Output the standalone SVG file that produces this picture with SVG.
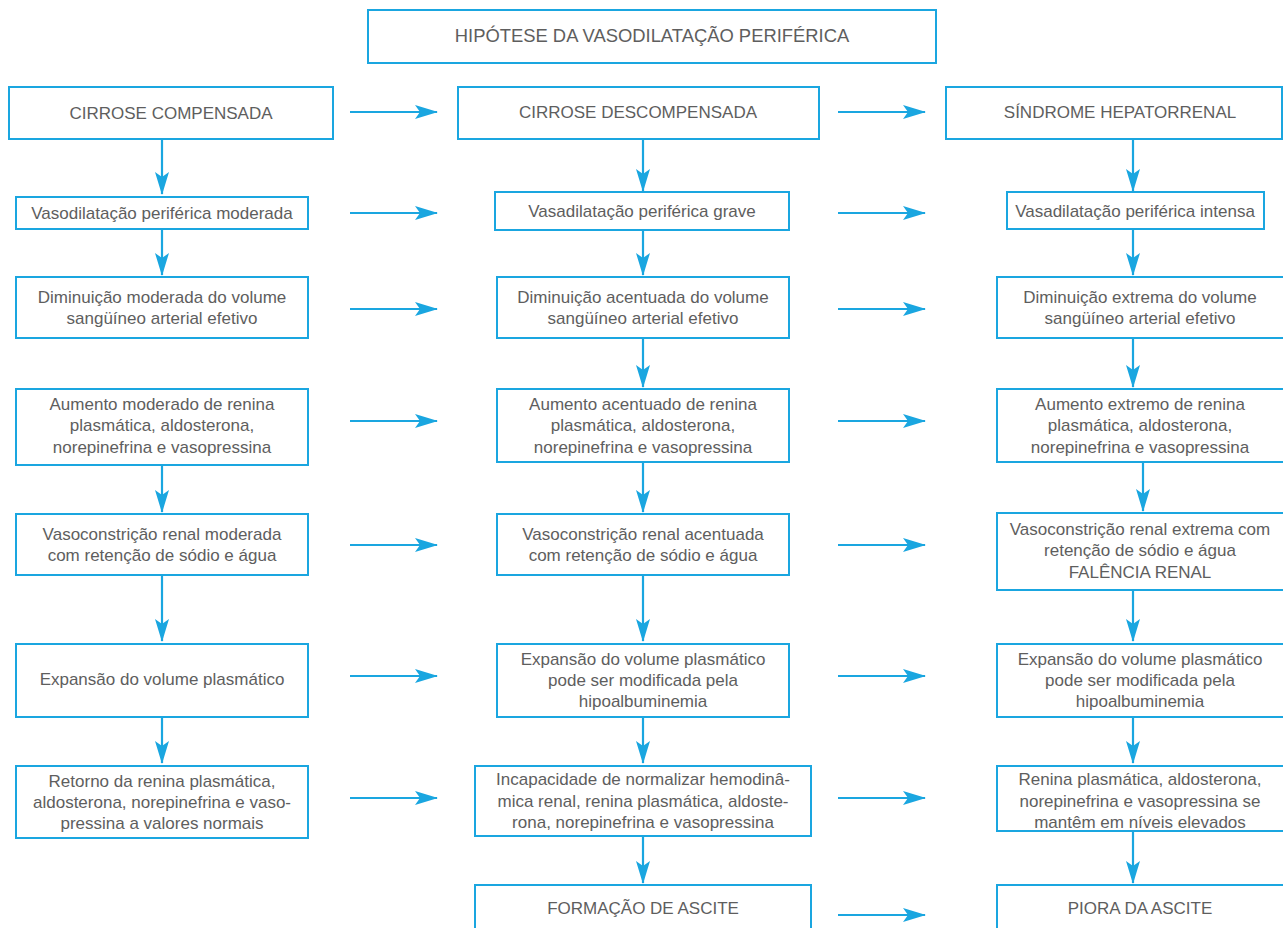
<svg xmlns="http://www.w3.org/2000/svg" width="1283" height="928" viewBox="0 0 1283 928">
<style>
.b{fill:#fff;stroke:#1aa6e0;stroke-width:2}
.t{font-family:"Liberation Sans",Arial,sans-serif;font-size:17px;fill:#5e5e5e;text-anchor:middle}
.ti{font-size:18.4px}
.c{stroke:#1aa6e0;stroke-width:2.2;fill:none;marker-end:url(#ah)}
</style>
<defs>
<marker id="ah" markerUnits="userSpaceOnUse" markerWidth="24" markerHeight="14" refX="22" refY="7" orient="auto">
<path d="M0,0 L23,7 L0,14 L5,7 Z" fill="#1aa6e0"/>
</marker>
</defs>
<rect width="1283" height="928" fill="#fff"/>
<g id="connectors">
<path class="c" d="M350,112 H437"/><path class="c" d="M838,112 H925"/>
<path class="c" d="M350,213 H437"/><path class="c" d="M838,213 H925"/>
<path class="c" d="M350,309 H437"/><path class="c" d="M838,309 H925"/>
<path class="c" d="M350,421 H437"/><path class="c" d="M838,421 H925"/>
<path class="c" d="M350,545 H437"/><path class="c" d="M838,545 H925"/>
<path class="c" d="M350,676 H437"/><path class="c" d="M838,676 H925"/>
<path class="c" d="M350,798 H437"/><path class="c" d="M838,798 H925"/>
<path class="c" d="M838,915 H925"/>
<path class="c" d="M162,139 V194"/><path class="c" d="M162,229 V275"/>
<path class="c" d="M162,465 V512"/><path class="c" d="M162,575 V641"/><path class="c" d="M162,717 V763"/>
<path class="c" d="M643,139 V191"/><path class="c" d="M643,230 V275"/><path class="c" d="M643,338 V387"/>
<path class="c" d="M643,462 V512"/><path class="c" d="M643,575 V641"/><path class="c" d="M643,717 V763"/><path class="c" d="M643,836 V883"/>
<path class="c" d="M1133,139 V191"/><path class="c" d="M1133,229 V275"/><path class="c" d="M1133,338 V387"/>
<path class="c" d="M1143,462 V511"/><path class="c" d="M1133,590 V641"/><path class="c" d="M1133,717 V763"/><path class="c" d="M1133,831 V883"/>
</g>
<g id="title"><rect class="b" x="368" y="10" width="568" height="53"/><text class="t ti" x="652" y="42">HIPÓTESE DA VASODILATAÇÃO PERIFÉRICA</text></g>

<g id="c1r1"><rect class="b" x="9" y="87" width="324" height="52"/><text class="t" x="171" y="119">CIRROSE COMPENSADA</text></g>
<g id="c1r2"><rect class="b" x="16" y="197" width="292" height="32"/><text class="t" x="162" y="219">Vasodilatação periférica moderada</text></g>
<g id="c1r3"><rect class="b" x="16" y="277" width="292" height="61"/><text class="t" x="162" y="303">Diminuição moderada do volume</text><text class="t" x="162" y="324">sangüíneo arterial efetivo</text></g>
<g id="c1r4"><rect class="b" x="16" y="389" width="292" height="76"/><text class="t" x="162" y="410">Aumento moderado de renina</text><text class="t" x="162" y="431">plasmática, aldosterona,</text><text class="t" x="162" y="453">norepinefrina e vasopressina</text></g>
<g id="c1r5"><rect class="b" x="16" y="514" width="292" height="61"/><text class="t" x="162" y="540">Vasoconstrição renal moderada</text><text class="t" x="162" y="561">com retenção de sódio e água</text></g>
<g id="c1r6"><rect class="b" x="16" y="644" width="292" height="73"/><text class="t" x="162" y="685">Expansão do volume plasmático</text></g>
<g id="c1r7"><rect class="b" x="16" y="766" width="292" height="72"/><text class="t" x="162" y="787">Retorno da renina plasmática,</text><text class="t" x="162" y="808">aldosterona, norepinefrina e vaso-</text><text class="t" x="162" y="829">pressina a valores normais</text></g>

<g id="c2r1"><rect class="b" x="458" y="87" width="361" height="52"/><text class="t" x="638" y="118">CIRROSE DESCOMPENSADA</text></g>
<g id="c2r2"><rect class="b" x="495" y="192" width="294" height="38"/><text class="t" x="642" y="217">Vasadilatação periférica grave</text></g>
<g id="c2r3"><rect class="b" x="497" y="277" width="292" height="61"/><text class="t" x="643" y="303">Diminuição acentuada do volume</text><text class="t" x="643" y="324">sangüíneo arterial efetivo</text></g>
<g id="c2r4"><rect class="b" x="497" y="389" width="292" height="73"/><text class="t" x="643" y="410">Aumento acentuado de renina</text><text class="t" x="643" y="431">plasmática, aldosterona,</text><text class="t" x="643" y="453">norepinefrina e vasopressina</text></g>
<g id="c2r5"><rect class="b" x="497" y="514" width="292" height="61"/><text class="t" x="643" y="540">Vasoconstrição renal acentuada</text><text class="t" x="643" y="561">com retenção de sódio e água</text></g>
<g id="c2r6"><rect class="b" x="497" y="644" width="292" height="73"/><text class="t" x="643" y="665">Expansão do volume plasmático</text><text class="t" x="643" y="686">pode ser modificada pela</text><text class="t" x="643" y="707">hipoalbuminemia</text></g>
<g id="c2r7"><rect class="b" x="475" y="766" width="336" height="70"/><text class="t" x="643" y="785">Incapacidade de normalizar hemodinâ-</text><text class="t" x="643" y="807">mica renal, renina plasmática, aldoste-</text><text class="t" x="643" y="828">rona, norepinefrina e vasopressina</text></g>
<g id="c2r8"><rect class="b" x="475" y="885" width="336" height="50"/><text class="t" x="643" y="914">FORMAÇÃO DE ASCITE</text></g>

<g id="c3r1"><rect class="b" x="946" y="87" width="336" height="52"/><text class="t" x="1120" y="118">SÍNDROME HEPATORRENAL</text></g>
<g id="c3r2"><rect class="b" x="1007" y="192" width="257" height="37"/><text class="t" x="1135" y="217">Vasadilatação periférica intensa</text></g>
<g id="c3r3"><rect class="b" x="997" y="277" width="290" height="61"/><text class="t" x="1140" y="303">Diminuição extrema do volume</text><text class="t" x="1140" y="324">sangüíneo arterial efetivo</text></g>
<g id="c3r4"><rect class="b" x="997" y="389" width="290" height="73"/><text class="t" x="1140" y="410">Aumento extremo de renina</text><text class="t" x="1140" y="431">plasmática, aldosterona,</text><text class="t" x="1140" y="453">norepinefrina e vasopressina</text></g>
<g id="c3r5"><rect class="b" x="997" y="513" width="290" height="77"/><text class="t" x="1140" y="535">Vasoconstrição renal extrema com</text><text class="t" x="1140" y="556">retenção de sódio e água</text><text class="t" x="1140" y="578">FALÊNCIA RENAL</text></g>
<g id="c3r6"><rect class="b" x="997" y="644" width="290" height="73"/><text class="t" x="1140" y="665">Expansão do volume plasmático</text><text class="t" x="1140" y="686">pode ser modificada pela</text><text class="t" x="1140" y="707">hipoalbuminemia</text></g>
<g id="c3r7"><rect class="b" x="997" y="766" width="290" height="65"/><text class="t" x="1140" y="785">Renina plasmática, aldosterona,</text><text class="t" x="1140" y="807">norepinefrina e vasopressina se</text><text class="t" x="1140" y="828">mantêm em níveis elevados</text></g>
<g id="c3r8"><rect class="b" x="997" y="885" width="290" height="50"/><text class="t" x="1140" y="914">PIORA DA ASCITE</text></g>
</svg>
